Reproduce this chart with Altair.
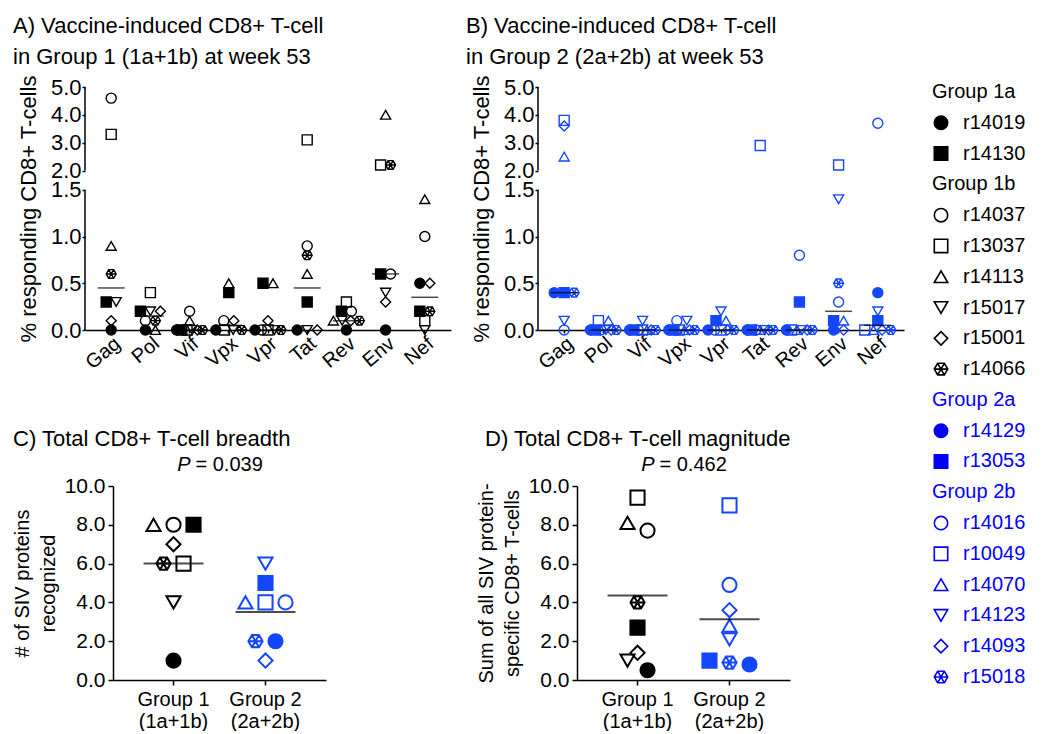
import altair as alt
import pandas as pd

FONT = "Liberation Sans"
BLUE = "#1546ff"
LEG_BLUE = "#0000ff"

proteins = ["Gag", "Pol", "Vif", "Vpx", "Vpr", "Tat", "Rev", "Env", "Nef"]
groups = ["Group 1", "Group 2"]
group_subtitles = ["(1a+1b)", "(2a+2b)"]
subgroups = ["1a", "1b", "2a", "2b"]

g1_animals = ["r14019", "r14130", "r14037", "r13037", "r14113", "r15017", "r15001", "r14066"]
g1_subgroups = ["1a", "1a", "1b", "1b", "1b", "1b", "1b", "1b"]
g2_animals = ["r14129", "r13053", "r14016", "r10049", "r14070", "r14123", "r14093", "r15018"]
g2_subgroups = ["2a", "2a", "2b", "2b", "2b", "2b", "2b", "2b"]

# % responding CD8+ T-cells per protein (Gag, Pol, Vif, Vpx, Vpr, Tat, Rev, Env, Nef)
r14019 = [0.0, 0.0, 0.0, 0.0, 0.0, 0.0, 0.0, 0.0, 0.5]
r14130 = [0.3, 0.2, 0.0, 0.4, 0.5, 0.3, 0.2, 0.6, 0.2]
r14037 = [4.6, 0.1, 0.2, 0.1, 0.0, 0.9, 0.2, 0.6, 1.0]
r13037 = [3.3, 0.4, 0.0, 0.0, 0.0, 3.1, 0.3, 2.2, 0.1]
r14113 = [0.9, 0.0, 0.1, 0.5, 0.5, 0.6, 0.1, 4.0, 1.4]
r15017 = [0.3, 0.2, 0.0, 0.0, 0.0, 0.0, 0.1, 0.4, 0.0]
r15001 = [0.1, 0.2, 0.0, 0.1, 0.1, 0.0, 0.1, 0.3, 0.5]
r14066 = [0.6, 0.1, 0.0, 0.0, 0.0, 0.8, 0.1, 2.2, 0.2]

r14129 = [0.4, 0.0, 0.0, 0.0, 0.0, 0.0, 0.0, 0.0, 0.4]
r13053 = [0.4, 0.0, 0.0, 0.0, 0.1, 0.0, 0.3, 0.1, 0.1]
r14016 = [0.0, 0.0, 0.0, 0.1, 0.0, 0.0, 0.8, 0.3, 3.7]
r10049 = [3.8, 0.1, 0.0, 0.0, 0.0, 2.9, 0.0, 2.2, 0.0]
r14070 = [2.5, 0.1, 0.0, 0.0, 0.1, 0.0, 0.0, 0.1, 0.0]
r14123 = [0.1, 0.0, 0.1, 0.1, 0.2, 0.0, 0.0, 1.4, 0.2]
r14093 = [3.6, 0.0, 0.0, 0.0, 0.0, 0.0, 0.0, 0.0, 0.0]
r15018 = [0.4, 0.0, 0.0, 0.0, 0.0, 0.0, 0.0, 0.5, 0.0]

g1_values = [r14019, r14130, r14037, r13037, r14113, r15017, r15001, r14066]
g2_values = [r14129, r13053, r14016, r10049, r14070, r14123, r14093, r15018]

p_breadth = "= 0.039"
p_magnitude = "= 0.462"

HEX = ("M1,0L0.5,0.866L-0.5,0.866L-1,0L-0.5,-0.866L0.5,-0.866Z"
       "M1,0L-1,0M0.5,0.866L-0.5,-0.866M-0.5,0.866L0.5,-0.866")
marker_shapes = ["circle", "square", "circle", "square", "triangle-up",
                 "triangle-down", "diamond", HEX]

# ---------------- long table ----------------
rows = []
for grp, animals, subs, vals in [(groups[0], g1_animals, g1_subgroups, g1_values),
                                 (groups[1], g2_animals, g2_subgroups, g2_values)]:
    for i, (a, s, v) in enumerate(zip(animals, subs, vals)):
        for p, x in zip(proteins, v):
            rows.append(dict(grp=grp, animal=a, sub=s, ord=i, protein=p, value=x))
df = pd.DataFrame(rows)

all_animals = g1_animals + g2_animals
shape_scale = alt.Scale(domain=all_animals, range=marker_shapes * 2)
fill_scale = alt.Scale(domain=subgroups, range=["black", "transparent", BLUE, "transparent"])
stroke_scale = alt.Scale(domain=groups, range=["black", BLUE])

# broken y axis (0-1.5 linear, 2-5 compressed)
LOW_TOP, HIGH_START, GAP_POS, HIGH_K = 1.5, 2.0, 1.707, 0.298
Y_TOP = GAP_POS + (5.0 - HIGH_START) * HIGH_K
low_ticks = [0.0, 0.5, 1.0, 1.5]
high_ticks = [2.0, 3.0, 4.0, 5.0]
axis_segments = pd.DataFrame({"a": [0.0, 2.0], "b": [1.5, 5.0]})


def brk(f):
    return (f"datum.{f} <= {LOW_TOP} ? datum.{f} : "
            f"{GAP_POS} + (datum.{f} - {HIGH_START}) * {HIGH_K}")


def brk_py(v):
    return v if v <= LOW_TOP else GAP_POS + (v - HIGH_START) * HIGH_K


AB_W, AB_H = 366, 243
AB_PO = 0.168
ab_half = AB_W / (len(proteins) + 2 * AB_PO) / 2


def panel_ab(grp, title):
    d = df[df.grp == grp]
    xenc = alt.X("protein:N", scale=alt.Scale(domain=proteins, paddingInner=0, paddingOuter=AB_PO),
                 axis=alt.Axis(title=None, labelAngle=320, labelFontSize=20, tickSize=3,
                               labelPadding=0, domainWidth=1.5, tickWidth=1.5))
    yscale = alt.Scale(domain=[0, Y_TOP], nice=False, zero=True)
    yaxis = alt.Axis(title="% responding CD8+ T-cells", values=[brk_py(v) for v in low_ticks + high_ticks],
                     labelExpr=(f"datum.value <= {LOW_TOP + 0.01} ? format(datum.value, '.1f') : "
                                f"format({HIGH_START} + (datum.value - {GAP_POS}) / {HIGH_K}, '.1f')"),
                     domain=False, tickSize=3, tickWidth=1.5, labelPadding=1, titlePadding=10,
                     labelFontSize=22, titleFontSize=22, labelOverlap=False)
    segs = alt.Chart(axis_segments).transform_calculate(ya=brk("a"), yb=brk("b")).mark_rule(
        color="black", strokeWidth=1.5).encode(
        x=alt.value(0), y=alt.Y("ya:Q", scale=yscale, axis=yaxis), y2="yb:Q")
    pts = alt.Chart(d).transform_calculate(
        yt=brk("value"), lvl="round(datum.value * 10)"
    ).transform_joinaggregate(
        n="count()", groupby=["protein", "lvl"]
    ).transform_window(
        rk="row_number()", groupby=["protein", "lvl"], sort=[alt.SortField("ord", order="ascending")]
    ).transform_calculate(
        off="(datum.rk - (datum.n + 1) / 2) * min(10, 26 / max(datum.n - 1, 1))"
    ).mark_point(filled=False, size=100, strokeWidth=1.4, opacity=1).encode(
        x=xenc,
        xOffset=alt.XOffset("off:Q", scale=alt.Scale(domain=[-ab_half, ab_half])),
        y=alt.Y("yt:Q", scale=yscale, axis=yaxis),
        shape=alt.Shape("animal:N", scale=shape_scale, legend=None),
        fill=alt.Fill("sub:N", scale=fill_scale, legend=None),
        stroke=alt.Stroke("grp:N", scale=stroke_scale, legend=None),
    )
    med = alt.Chart(d).transform_aggregate(
        m="median(value)", groupby=["protein"]
    ).transform_calculate(ym=brk("m")).mark_tick(color="black", thickness=1.5, size=27).encode(
        x=xenc, y=alt.Y("ym:Q", scale=yscale, axis=yaxis))
    return alt.layer(segs, pts, med).properties(
        width=AB_W, height=AB_H,
        title=alt.Title(text=title, anchor="start", frame="group", dx=-72, fontSize=22,
                        lineHeight=31, offset=6, fontWeight="normal"))


CD_W, CD_H = 213, 194
CD_PO = 0.158
cd_half = CD_W / (2 + 2 * CD_PO) / 2


def panel_cd(measure, tol, title, ytitle, ptext, shift, title_dx, sort):
    xenc = alt.X("grp:N", scale=alt.Scale(domain=groups, paddingInner=0, paddingOuter=CD_PO,
                                          range=[shift, CD_W + shift]),
                 axis=alt.Axis(title=None, labelAngle=0, labelFontSize=20, tickSize=5, tickWidth=1.5,
                               domainWidth=1.5, labelPadding=4, labelLineHeight=22,
                               labelExpr=(f"[datum.label, datum.label == '{groups[0]}' ? "
                                          f"'{group_subtitles[0]}' : '{group_subtitles[1]}']")))
    yscale = alt.Scale(domain=[0, 10], nice=False)
    yaxis = alt.Axis(title=ytitle, values=[0, 2, 4, 6, 8, 10], format=".1f", tickSize=5, tickWidth=1.5,
                     domainWidth=1.5, labelPadding=3, titlePadding=6, titleLineHeight=26,
                     titleFontSize=20, offset=-shift, labelOverlap=False)
    base = alt.Chart(df).transform_calculate(pos="datum.value > 0 ? 1 : 0").transform_aggregate(
        cnt="sum(pos)", tot="sum(value)", groupby=["grp", "animal", "sub", "ord"]
    ).transform_calculate(m=f"datum.{measure}")
    pts = base.transform_calculate(lvl=f"round(datum.m / {tol})").transform_joinaggregate(
        n="count()", groupby=["grp", "lvl"]
    ).transform_window(
        rk="row_number()", groupby=["grp", "lvl"], sort=sort
    ).transform_calculate(off="(datum.rk - (datum.n + 1) / 2) * 20").mark_point(
        filled=False, size=200, strokeWidth=2, opacity=1).encode(
        x=xenc,
        xOffset=alt.XOffset("off:Q", scale=alt.Scale(domain=[-cd_half, cd_half])),
        y=alt.Y("m:Q", scale=yscale, axis=yaxis),
        shape=alt.Shape("animal:N", scale=shape_scale, legend=None),
        fill=alt.Fill("sub:N", scale=fill_scale, legend=None),
        stroke=alt.Stroke("grp:N", scale=stroke_scale, legend=None),
    )
    mean = base.transform_aggregate(mm="mean(m)", groupby=["grp"]).mark_tick(
        color="black", thickness=2, size=60).encode(x=xenc, y=alt.Y("mm:Q", scale=yscale, axis=yaxis))
    pdata = alt.Chart(pd.DataFrame({"p": [ptext]}))
    p_it = pdata.mark_text(text="P", fontStyle="italic", fontSize=20, align="right", baseline="middle",
                           color="black").encode(x=alt.value(shift + CD_W / 2 - 29), y=alt.value(-21))
    p_rest = pdata.mark_text(fontSize=20, align="left", baseline="middle", color="black").encode(
        text="p:N", x=alt.value(shift + CD_W / 2 - 24), y=alt.value(-21))
    return alt.layer(pts, mean, p_it, p_rest).properties(
        width=CD_W + shift, height=CD_H,
        title=alt.Title(text=title, anchor="start", frame="group", dx=title_dx,
                        fontSize=22, offset=4, fontWeight="normal"))


A = panel_ab(groups[0], ["A) Vaccine-induced CD8+ T-cell", "in Group 1 (1a+1b) at week 53"])
B = panel_ab(groups[1], ["B) Vaccine-induced CD8+ T-cell", "in Group 2 (2a+2b) at week 53"])
C = panel_cd("cnt", 1.0, "C) Total CD8+ T-cell breadth", ["# of SIV proteins", "recognized"],
             p_breadth, 28, -72, [alt.SortField("ord", order="descending")])
D = panel_cd("tot", 0.8, "D) Total CD8+ T-cell magnitude",
             ["Sum of all SIV protein-", "specific CD8+ T-cells"], p_magnitude, 0, -92,
             [alt.SortField("m", order="descending"), alt.SortField("ord", order="ascending")])

ind = dict(x="independent", y="independent", xOffset="independent")
row1 = alt.hconcat(A, B, spacing=15).resolve_scale(**ind)
row2 = alt.hconcat(C, D, spacing=150).resolve_scale(**ind)
left = alt.vconcat(row1, row2, spacing=55).resolve_scale(**ind)

# ---------------- custom legend ----------------
leg_rows = []
for grp, animals, subs in [(groups[0], g1_animals, g1_subgroups), (groups[1], g2_animals, g2_subgroups)]:
    for sg in [s for s in subgroups if s in subs]:
        leg_rows.append(dict(kind="header", label="Group " + sg, grp=grp, sub=sg, animal=""))
        for a, s in zip(animals, subs):
            if s == sg:
                leg_rows.append(dict(kind="entry", label=a, grp=grp, sub=s, animal=a))
ldf = pd.DataFrame(leg_rows)
ldf["idx"] = range(len(ldf))

leg_y = alt.Y("idx:O", scale=alt.Scale(type="point", range=[5, 590], padding=0), axis=None)
leg_color = alt.Color("grp:N", scale=alt.Scale(domain=groups, range=["black", LEG_BLUE]), legend=None)
lbase = alt.Chart(ldf)
l_head = lbase.transform_filter("datum.kind == 'header'").mark_text(
    align="left", baseline="middle", fontSize=20).encode(x=alt.value(6), y=leg_y, text="label:N", color=leg_color)
l_sym = lbase.transform_filter("datum.kind == 'entry'").mark_point(
    filled=False, size=180, strokeWidth=1.6, opacity=1).encode(
    x=alt.value(15), y=leg_y,
    shape=alt.Shape("animal:N", scale=shape_scale, legend=None),
    fill=alt.Fill("sub:N", scale=alt.Scale(domain=subgroups, range=["black", "transparent", LEG_BLUE, "transparent"]), legend=None),
    stroke=alt.Stroke("grp:N", scale=alt.Scale(domain=groups, range=["black", LEG_BLUE]), legend=None))
l_text = lbase.transform_filter("datum.kind == 'entry'").mark_text(
    align="left", baseline="middle", fontSize=20).encode(x=alt.value(37), y=leg_y, text="label:N", color=leg_color)
legend = alt.layer(l_head, l_sym, l_text).properties(width=100, height=600)

chart = alt.hconcat(left, legend, spacing=22).resolve_scale(
    x="independent", y="independent", xOffset="independent", fill="independent", stroke="independent"
).properties(
    padding={"left": 4, "top": 6, "right": 0, "bottom": 0}
).configure(font=FONT).configure_view(stroke=None).configure_axis(
    labelColor="black", titleColor="black", tickColor="black", domainColor="black",
    labelFontSize=21, titleFontSize=21, titleFontWeight="normal", grid=False,
    labelFont=FONT, titleFont=FONT
).configure_title(font=FONT, fontWeight="normal", color="black")

chart.save("out.html", embed_options={"renderer": "svg", "actions": False})
